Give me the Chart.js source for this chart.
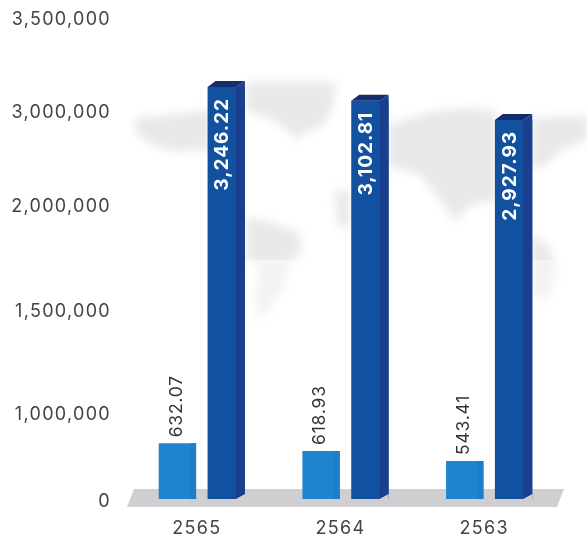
<!DOCTYPE html>
<html>
<head>
<meta charset="utf-8">
<style>
  html, body { margin: 0; padding: 0; background: #fff; }
  canvas { display: block; }
</style>
<script src="https://cdn.jsdelivr.net/npm/chart.js@4"></script>
</head>
<body>
<canvas id="myChart" width="587" height="542"></canvas>
<script>
const years = ['2565', '2564', '2563'];
const tickValues = [0, 1000000, 1500000, 2000000, 3000000, 3500000];
// printed on the bars
const smallLabels = ['632.07', '618.93', '543.41'];
const bigLabels = ['3,246.22', '3,102.81', '2,927.93'];
const smallValues = [674000, 586000, 471000];
const bigValues = [3140000, 3066000, 2926000];
const floorValue = 34000;

// the axis is not evenly spaced: share of the axis height at each tick
const tickShares = [0, 0.1805, 0.3942, 0.612, 0.8071, 1];

class SteppedScale extends Chart.LinearScale {
  static id = 'stepped';
  static defaults = {};
  buildTicks() {
    return tickValues.map(value => ({ value }));
  }
  getPixelForValue(value) {
    let i = 0;
    while (i < tickValues.length - 2 && value > tickValues[i + 1]) i++;
    const t = (value - tickValues[i]) / (tickValues[i + 1] - tickValues[i]);
    return this.getPixelForDecimal(tickShares[i] + t * (tickShares[i + 1] - tickShares[i]));
  }
  getValueForPixel(pixel) {
    const d = this.getDecimalForPixel(pixel);
    let i = 0;
    while (i < tickShares.length - 2 && d > tickShares[i + 1]) i++;
    const t = (d - tickShares[i]) / (tickShares[i + 1] - tickShares[i]);
    return tickValues[i] + t * (tickValues[i + 1] - tickValues[i]);
  }
}
Chart.register(SteppedScale);

const mapShapes = [
  [[135,118],[168,115],[210,110],[210,150],[170,151],[150,143],[137,135]],
  [[246,82],[336,82],[332,110],[320,128],[305,132],[296,140],[285,128],[270,118],[246,110]],
  [[246,218],[270,222],[298,232],[302,250],[290,262],[246,262]],
  [[260,260],[292,260],[282,290],[266,312],[258,320],[256,295]],
  [[335,190],[350,190],[350,230],[338,225]],
  [[388,125],[430,112],[470,108],[496,112],[496,200],[470,205],[455,222],[445,205],[420,175],[388,165]],
  [[532,118],[587,116],[587,140],[560,150],[545,165],[532,170]],
  [[532,235],[548,245],[556,270],[548,300],[532,295]]
];

const backdrop = {
  id: 'backdrop',
  beforeDraw(chart) {
    chart.ctx.letterSpacing = '1.3px';
  },
  beforeDatasetsDraw(chart) {
    const ctx = chart.ctx;
    const y0 = chart.scales.y.getPixelForValue(0);
    ctx.save();
    ctx.letterSpacing = '0px';
    // world map
    ctx.filter = 'blur(5px)';
    ctx.fillStyle = '#e8e8e8';
    mapShapes.forEach(shape => {
      ctx.beginPath();
      shape.forEach((p, i) => i ? ctx.lineTo(p[0], p[1]) : ctx.moveTo(p[0], p[1]));
      ctx.closePath();
      ctx.fill();
    });
    ctx.filter = 'none';
    ctx.fillStyle = 'rgba(255,255,255,0.45)';
    ctx.fillRect(120, 260, 467, 80);
    // floor
    ctx.fillStyle = '#cfcfd1';
    ctx.beginPath();
    ctx.moveTo(134, y0 - 13);
    ctx.lineTo(564, y0 - 13);
    ctx.lineTo(557, y0 + 5);
    ctx.lineTo(127, y0 + 5);
    ctx.closePath();
    ctx.fill();
    ctx.restore();
  },
  afterDatasetsDraw(chart) {
    const ctx = chart.ctx;
    ctx.save();
    ctx.textBaseline = 'middle';
    chart.getDatasetMeta(0).data.forEach((bar, i) => {
      const r = bar.x + bar.width / 2;
      ctx.fillStyle = '#1d7dc9';
      ctx.fillRect(r - 6, bar.y, 6, bar.base - bar.y);
      ctx.save();
      ctx.translate(bar.x - 1, bar.y - 6);
      ctx.rotate(-Math.PI / 2);
      ctx.font = '17.5px Inter';
      ctx.letterSpacing = '0.8px';
      ctx.fillStyle = '#333';
      ctx.textAlign = 'left';
      ctx.fillText(smallLabels[i], 0, 0);
      ctx.restore();
    });
    chart.getDatasetMeta(1).data.forEach((bar, i) => {
      const l = bar.x - bar.width / 2;
      const r = bar.x + bar.width / 2;
      const f = r - 9;
      // side
      ctx.fillStyle = '#1b3f8e';
      ctx.beginPath();
      ctx.moveTo(f, bar.y);
      ctx.lineTo(r, bar.y - 6);
      ctx.lineTo(r, bar.base - 5);
      ctx.lineTo(f, bar.base);
      ctx.closePath();
      ctx.fill();
      // top
      ctx.fillStyle = '#152c6e';
      ctx.beginPath();
      ctx.moveTo(l, bar.y);
      ctx.lineTo(l + 8, bar.y - 6);
      ctx.lineTo(r, bar.y - 6);
      ctx.lineTo(f, bar.y);
      ctx.closePath();
      ctx.fill();
      // corner cut at the foot
      ctx.fillStyle = '#cfcfd1';
      ctx.beginPath();
      ctx.moveTo(f, bar.base);
      ctx.lineTo(r, bar.base - 5);
      ctx.lineTo(r, bar.base);
      ctx.closePath();
      ctx.fill();
      ctx.save();
      ctx.translate(l + 15, bar.y + 11);
      ctx.rotate(-Math.PI / 2);
      ctx.font = 'bold 19px Inter';
      ctx.letterSpacing = '1px';
      ctx.fillStyle = '#fff';
      ctx.textAlign = 'right';
      ctx.fillText(bigLabels[i], 0, 0);
      ctx.restore();
    });
    ctx.restore();
  }
};

const ctx = document.getElementById('myChart').getContext('2d');
const myChart = new Chart(ctx, {
  type: 'bar',
  data: {
    labels: years,
    datasets: [
      { label: 'small', data: smallValues, base: floorValue, backgroundColor: '#1f83cf', categoryPercentage: 0.68, barPercentage: 0.765 },
      { label: 'big', data: bigValues, base: floorValue, backgroundColor: '#11519f', categoryPercentage: 0.68, barPercentage: 0.765 }
    ]
  },
  options: {
    responsive: false,
    animation: false,
    layout: { padding: { top: 0, right: 26, bottom: 0, left: 0 } },
    plugins: {
      legend: { display: false },
      title: { display: false },
      tooltip: { enabled: false }
    },
    scales: {
      x: {
        grid: { display: false, drawTicks: false },
        border: { display: false },
        afterFit: scale => { scale.height = 40; },
        ticks: {
          padding: 16,
          labelOffset: -5,
          color: '#444',
          maxRotation: 0,
          font: { family: 'Inter', size: 18 }
        }
      },
      y: {
        type: 'stepped',
        min: 0,
        max: 3500000,
        grid: { display: false, drawTicks: false },
        border: { display: false },
        afterFit: scale => { scale.width = 130; scale.paddingTop = 20; scale.paddingBottom = 0; },
        ticks: {
          padding: 19,
          color: '#444',
          font: { family: 'Inter', size: 18 },
          callback: value => value.toLocaleString('en-US')
        }
      }
    }
  },
  plugins: [backdrop]
});
</script>
</body>
</html>
